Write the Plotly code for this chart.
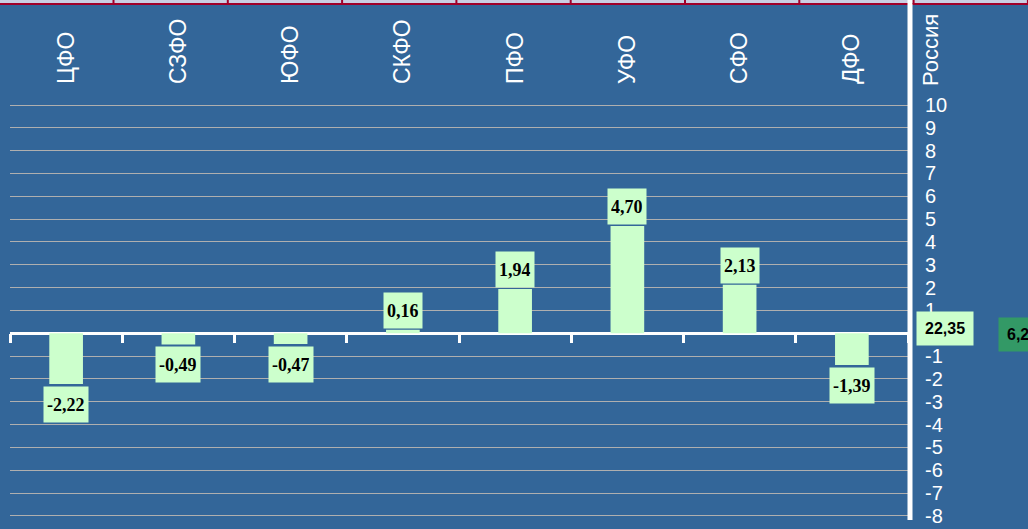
import plotly.graph_objects as go

# data
districts = ["ЦФО", "СЗФО", "ЮФО", "СКФО", "ПФО", "УФО", "СФО", "ДФО"]
changes = [-2.22, -0.49, -0.47, 0.16, 1.94, 4.70, 2.13, -1.39]
russia_label = "Россия"
russia_value = 22.35
russia_value2 = 6.20
y_ticks = list(range(-8, 11))

W, H = 1028, 529
BG = "#336699"
BAR = "#CCFFCC"

# pixel geometry of the plot area
px_left, px_right = 10, 908
px_zero, px_per_unit = 333.3, 22.83
y_max = px_zero / px_per_unit
y_min = -(H - px_zero) / px_per_unit


def fmt(v):
    return f"{v:.2f}".replace(".", ",")


fig = go.Figure()
fig.add_trace(go.Bar(
    x=districts, y=changes, width=0.3,
    marker=dict(color=BAR, line=dict(width=0)),
    showlegend=False, hoverinfo="skip",
))
# dummy trace so the tick-mark axis gets drawn
fig.add_trace(go.Scatter(x=[], y=[], xaxis="x2", yaxis="y", showlegend=False))

annotations = []
for d, v in zip(districts, changes):
    annotations.append(dict(
        x=d, y=v, xref="x", yref="y", showarrow=False,
        text=f"<b>{fmt(v)}</b>",
        font=dict(family="Liberation Serif, Times New Roman", size=18, color="black"),
        bgcolor=BAR, borderpad=3, height=29,
        yanchor="bottom" if v >= 0 else "top",
        yshift=1 if v >= 0 else -2,
    ))

annotations.append(dict(
    x=930 / W, y=(H - 88) / H, xref="paper", yref="paper", showarrow=False,
    text=russia_label, textangle=-90, xanchor="center", yanchor="bottom",
    font=dict(family="Liberation Sans, Arial", size=22, color="white"),
))
annotations.append(dict(
    x=916 / W, y=0, xref="paper", yref="y", showarrow=False, yshift=5,
    xanchor="left", yanchor="middle",
    text=f"<b>{fmt(russia_value)}</b>",
    font=dict(family="Liberation Sans, Arial", size=16, color="black"),
    bgcolor=BAR, borderpad=8,
))
annotations.append(dict(
    x=998 / W, y=0, xref="paper", yref="y", showarrow=False, yshift=-1,
    xanchor="left", yanchor="middle",
    text=f"<b>{fmt(russia_value2)}</b>",
    font=dict(family="Liberation Sans, Arial", size=16, color="black"),
    bgcolor="#339966", borderpad=8,
))

shapes = [
    # spreadsheet strip at top
    dict(type="rect", xref="paper", yref="paper", x0=0, x1=1,
         y0=1 - 4 / H, y1=1, fillcolor="#CACEE2", line=dict(width=0), layer="above"),
    dict(type="line", xref="paper", yref="paper", x0=0, x1=1,
         y0=1 - 4 / H, y1=1 - 4 / H, line=dict(color="#A0002A", width=2), layer="above"),
    # vertical value axis line
    dict(type="line", xref="paper", yref="paper", x0=910 / W, x1=910 / W,
         y0=(H - 520) / H, y1=1, line=dict(color="white", width=5), layer="above"),
]
for i in range(9):
    xp = (113.5 + i * 114.3) / W
    shapes.append(dict(type="line", xref="paper", yref="paper", x0=xp, x1=xp,
                       y0=1 - 4 / H, y1=1, line=dict(color="#A0002A", width=2), layer="above"))

fig.update_layout(
    width=W, height=H, autosize=False,
    margin=dict(l=0, r=0, t=0, b=0, pad=0),
    paper_bgcolor=BG, plot_bgcolor=BG,
    bargap=0.7,
    xaxis=dict(
        domain=[px_left / W, px_right / W], range=[-0.5, 7.5],
        anchor="free", position=(H - 84) / H, side="top",
        tickangle=-90, ticks="", showline=False, showgrid=False, zeroline=False,
        tickfont=dict(family="Liberation Sans, Arial", size=23, color="white"),
    ),
    xaxis2=dict(
        overlaying="x", range=[-0.5, 7.5], anchor="free",
        position=(0 - y_min) / (y_max - y_min), side="bottom",
        tickvals=[i - 0.5 for i in range(9)], showticklabels=False,
        ticks="outside", ticklen=9, tickwidth=3, tickcolor="white",
        showline=False, showgrid=False, zeroline=False,
    ),
    yaxis=dict(
        domain=[0, 1], range=[y_min, y_max], side="right",
        tickvals=y_ticks, ticktext=[str(t) for t in y_ticks],
        ticks="", ticklabelstandoff=16,
        tickfont=dict(family="Liberation Sans, Arial", size=20, color="white"),
        showgrid=True, gridcolor="#AFAFAF", gridwidth=1,
        zeroline=True, zerolinecolor="white", zerolinewidth=3,
        showline=False,
    ),
    annotations=annotations,
    shapes=shapes,
)

fig.write_html(
    "out.html",
    config={"displayModeBar": False},
    post_script="document.body.style.margin='0';document.body.style.overflow='hidden';",
)
